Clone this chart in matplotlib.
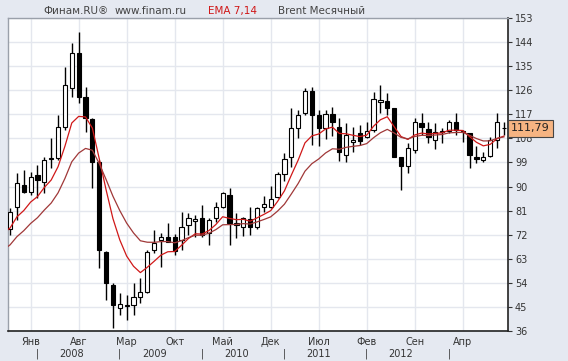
import matplotlib.pyplot as plt
import numpy as np
import pandas as pd

# Месячные свечи Brent (чтение с графика)
opens = [74.0, 82.5, 90.6, 88.1, 94.3, 91.8, 100.2, 100.5, 112.4, 126.7,
         139.8, 123.6, 115.3, 99.3, 65.7, 53.2, 44.5, 45.5, 45.7, 48.8,
         50.7, 66.3, 70.0, 71.3, 71.0, 70.0, 75.6, 77.3, 78.1, 72.5,
         78.1, 82.5, 86.8, 75.6, 75.0, 77.7, 75.0, 82.5, 82.5, 86.0,
         94.7, 101.2, 111.8, 117.4, 125.8, 116.7, 111.8, 117.1, 112.4, 101.8,
         106.5, 110.1, 108.4, 111.1, 121.7, 122.0, 119.2, 101.2, 97.7, 103.7,
         113.9, 111.4, 107.4, 110.3, 110.9, 114.3, 110.3, 109.9, 101.2, 99.9,
         101.4, 107.4, 112.0]
highs = [82.0, 95.0, 96.2, 95.6, 98.1, 101.2, 108.0, 116.7, 134.8, 143.5,
         147.9, 127.3, 115.5, 100.0, 66.0, 54.0, 50.1, 49.5, 53.8, 55.7,
         66.3, 73.8, 72.5, 76.2, 72.3, 80.6, 80.0, 79.4, 83.1, 78.1,
         84.3, 88.1, 89.3, 80.0, 78.6, 82.5, 82.5, 86.3, 90.2, 95.6,
         102.4, 119.2, 118.7, 126.7, 127.2, 118.7, 118.7, 119.9, 115.5, 113.6,
         112.4, 113.0, 114.3, 125.5, 128.0, 124.8, 119.5, 101.2, 106.2, 115.5,
         117.4, 114.3, 113.6, 111.8, 114.9, 117.6, 111.1, 109.9, 105.2, 103.0,
         108.6, 117.4, 114.3]
lows = [72.0, 77.5, 87.5, 86.8, 85.6, 87.5, 96.8, 99.9, 111.1, 123.6,
        121.1, 110.5, 89.3, 59.6, 47.6, 37.0, 42.0, 40.0, 42.0, 46.3,
        50.1, 65.0, 60.0, 69.4, 64.4, 66.3, 71.9, 71.3, 71.3, 68.2,
        76.9, 81.9, 68.2, 70.6, 71.5, 71.9, 74.3, 80.6, 81.9, 85.7,
        92.1, 97.4, 108.1, 116.7, 105.5, 105.2, 107.7, 108.9, 99.5, 99.3,
        103.0, 105.5, 108.0, 110.5, 117.4, 116.7, 101.2, 88.7, 95.0, 102.4,
        109.3, 106.2, 103.9, 106.2, 109.9, 109.3, 106.8, 96.8, 98.7, 99.3,
        101.2, 104.3, 109.3]
closes = [80.5, 91.2, 88.1, 93.7, 92.4, 99.9, 100.8, 112.4, 128.0, 139.8,
          123.6, 115.5, 99.3, 66.3, 53.8, 45.7, 46.1, 45.9, 48.8, 50.7,
          65.7, 68.8, 71.3, 69.4, 66.0, 75.0, 78.1, 77.7, 71.9, 77.5,
          82.5, 87.5, 76.2, 76.2, 78.1, 75.0, 81.9, 83.5, 85.2, 94.7,
          100.2, 111.8, 116.7, 125.8, 116.7, 111.8, 117.1, 114.3, 102.8, 109.3,
          107.5, 107.2, 110.8, 122.6, 122.2, 119.5, 101.2, 97.7, 104.3, 114.3,
          112.1, 108.6, 110.5, 110.7, 114.0, 111.1, 110.6, 101.8, 100.2, 101.2,
          107.4, 114.3, 111.79]

# стартовые значения EMA у левого края (с графика)
ema7_start = 72.5
ema14_start = 66.3

month_labels = ['Янв', 'Авг', 'Мар', 'Окт', 'Май', 'Дек', 'Июл', 'Фев', 'Сен', 'Апр']
year_labels = ['2008', '2009', '2010', '2011', '2012']
yticks = list(range(36, 154, 9))

n = len(closes)

# EMA 7 и 14 по закрытиям
ema7 = pd.Series([ema7_start] + closes).ewm(span=7, adjust=False).mean()
ema14 = pd.Series([ema14_start] + closes).ewm(span=14, adjust=False).mean()
x_ema = np.arange(-1, n)

fig = plt.figure(figsize=(5.68, 3.61), dpi=100, facecolor='#e5e9f1')
ax = fig.add_axes([8/568, 30/361, 500/568, 313/361])
ax.set_facecolor('white')

# сетка
month_pos = [3 + 7*k for k in range(len(month_labels))]
for yv in yticks:
    ax.axhline(yv, color='#e4e7ee', lw=1, zorder=0)
for xv in month_pos:
    ax.axvline(xv, color='#e4e7ee', lw=1, zorder=0)

# свечи
w = 0.62
for i in range(n):
    o, h, l, c = opens[i], highs[i], lows[i], closes[i]
    ax.vlines(i, l, h, color='black', lw=1, zorder=2)
    bottom = min(o, c)
    height = max(abs(c - o), 0.25)
    face = 'white' if c >= o else 'black'
    ax.bar(i, height, w, bottom=bottom, color=face, edgecolor='black', lw=0.8, zorder=3)

# линии EMA
ax.plot(x_ema, ema7, color='#d01818', lw=0.9, zorder=4)
ax.plot(x_ema, ema14, color='#a03838', lw=0.9, zorder=4)

ax.set_xlim(-0.3, 72.6)
ax.set_ylim(36, 153)
ax.set_xticks([])
ax.yaxis.tick_right()
ax.set_yticks(yticks)
ax.set_yticklabels([str(v) for v in yticks], fontsize=7, color='#333333')
ax.tick_params(axis='y', length=3, width=0.8, color='#333333', pad=2)

for side in ['right', 'bottom']:
    ax.spines[side].set_color('#222222')
    ax.spines[side].set_linewidth(1.2)
for side in ['left', 'top']:
    ax.spines[side].set_color('#9aa0aa')
    ax.spines[side].set_linewidth(1)

# метка последней цены
ax.text(1.006, closes[-1], f'{closes[-1]:.2f}'.replace('.', ','),
        transform=ax.get_yaxis_transform(), ha='left', va='center',
        fontsize=8, color='#222222', zorder=6,
        bbox=dict(boxstyle='square,pad=0.3', facecolor='#f6b482', edgecolor='#444444', lw=0.8))

# подписи по оси X
trans = ax.get_xaxis_transform()
for pos, lab in zip(month_pos, month_labels):
    ax.text(pos, -0.035, lab, transform=trans, ha='center', va='center',
            fontsize=7, color='#333333', clip_on=False)
year_marks = [4 + 12*k for k in range(len(year_labels) + 1)]
for pos in year_marks:
    ax.text(pos, -0.072, '|', transform=trans, ha='center', va='center',
            fontsize=7, color='#333333', clip_on=False)
for pos, lab in zip(year_marks, year_labels):
    ax.text(pos + 5, -0.072, lab, transform=trans, ha='center', va='center',
            fontsize=7, color='#333333', clip_on=False)

# заголовок
ty = 1 - 11/361
fig.text(43/568, ty, 'Финам.RU®', fontsize=7.5, color='#444444', va='center')
fig.text(115/568, ty, 'www.finam.ru', fontsize=7.5, color='#444444', va='center')
fig.text(208/568, ty, 'EMA 7,14', fontsize=7.5, color='#d01818', va='center')
fig.text(278/568, ty, 'Brent Месячный', fontsize=7.5, color='#444444', va='center')

plt.savefig('out.png', dpi=100, facecolor=fig.get_facecolor())
plt.close()
